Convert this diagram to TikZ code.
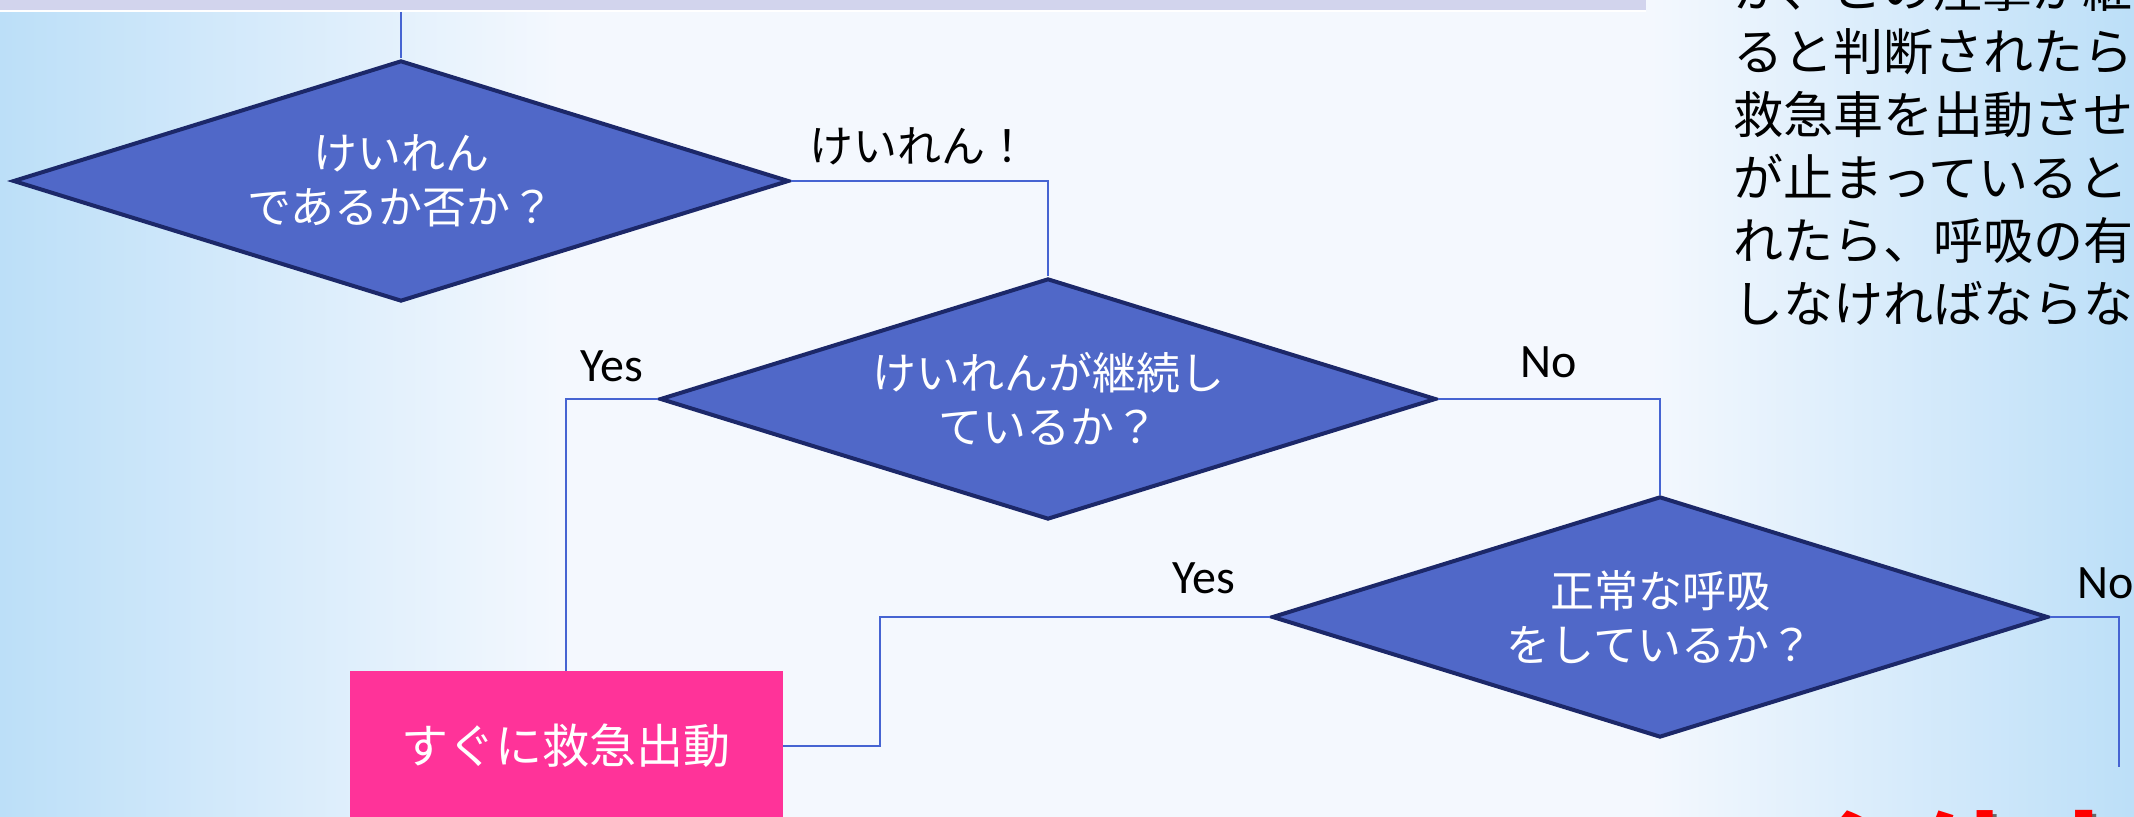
\documentclass[tikz,border=0pt]{standalone}
\usepackage{fontspec}
\setmainfont{Noto Sans CJK JP}
\newfontfamily\latinfont{Carlito}
\usetikzlibrary{shapes.geometric,fadings}

\definecolor{diafill}{RGB}{80,104,200}
\definecolor{diaedge}{RGB}{28,40,105}
\definecolor{linkblue}{RGB}{70,100,210}
\definecolor{boxpink}{RGB}{255,51,153}
\definecolor{barlav}{RGB}{210,212,237}
\definecolor{skyblue}{RGB}{188,223,248}
\definecolor{paleblue}{RGB}{244,248,254}

\tikzfading[name=bandfade, top color=transparent!100, middle color=transparent!35, bottom color=transparent!100]

\tikzset{
  decision/.style={shape=diamond, aspect=3.22, draw=diaedge, line width=2pt, fill=diafill,
    text=white, inner sep=0pt, minimum width=388pt, minimum height=120.5pt,
    align=center, font=\fontsize{22}{27}\selectfont},
  action/.style={rectangle, fill=boxpink, text=white, inner sep=0pt,
    minimum width=216.5pt, minimum height=75pt, font=\fontsize{23.5}{28}\selectfont},
  link/.style={draw=linkblue, line width=1pt},
  answer/.style={inner sep=0pt, font=\latinfont\fontsize{24}{28}\selectfont},
  cue/.style={inner sep=0pt, font=\fontsize{22}{27}\selectfont},
  note/.style={inner sep=0pt, font=\fontsize{25}{30}\selectfont},
  alarm/.style={inner sep=0pt, font=\bfseries\fontsize{55}{60}\selectfont}
}

\begin{document}
\begin{tikzpicture}[x=0.5pt, y=-0.5pt]

\useasboundingbox (0,0) rectangle (2134,817);
\clip (0,0) rectangle (2134,817);

%draw background
\fill[paleblue] (0,0) rectangle (2134,817);
\shade[left color=skyblue, right color=paleblue] (0,0) rectangle (560,817);
\shade[left color=paleblue, right color=skyblue] (1650,0) rectangle (2134,817);
\foreach \y in {450,560}
\shade[left color=skyblue, right color=paleblue, path fading=bandfade] (0,\y) rectangle (1100,\y+110);

%draw title bar
\fill[barlav] (0,0) rectangle (1646,10);
\fill[white] (0,10) rectangle (1646,12);

%draw decisions
\node[decision] (fit) at (401,181) {けいれん\\であるか否か？};
\node[decision] (lasting) at (1048,399) {けいれんが継続し\\ているか？};
\node[decision] (breath) at (1660,617) {正常な呼吸\\をしているか？};

%draw action box
\node[action] (rescue) at (566,746) {すぐに救急出動};

%draw connectors
\coordinate (bartop) at (401,12);
\coordinate (noend) at (2119,767);

\draw[link] (bartop) -- (fit.north);
\draw[link] (fit.east) -| node[cue, pos=0.25, yshift=17.5pt] (fitlabel) {けいれん！} (lasting.north);
\draw[link] (lasting.west) -| node[answer, pos=0.25, yshift=16.5pt] (yes1) {Yes} (rescue.north);
\draw[link] (lasting.east) -| node[answer, pos=0.25, yshift=18.5pt] (no1) {No} (breath.north);
\draw[link] (breath.west) -- node[answer, pos=0.17, yshift=19.5pt] (yes2) {Yes} ++(-390,0) |- (rescue.east);
\draw[link] (breath.east) -| node[answer, pos=0.4, yshift=17pt] (no2) {No} (noend);

%draw side text
\foreach \t [count=\i from 0] in {か、この痙攣が継,ると判断されたら,救急車を出動させ,が止まっていると,れたら、呼吸の有無,しなければならない}
\node[note, anchor=base west] (line\i) at (1733,{8+63*\i}) {\t};

%draw red note
\node[alarm, anchor=base west, text=black!60] (stopshade) at (1808,908) {心停止};
\node[alarm, anchor=base west, text=red] (stopnote) at (1804,904) {心停止};

\end{tikzpicture}
\end{document}
